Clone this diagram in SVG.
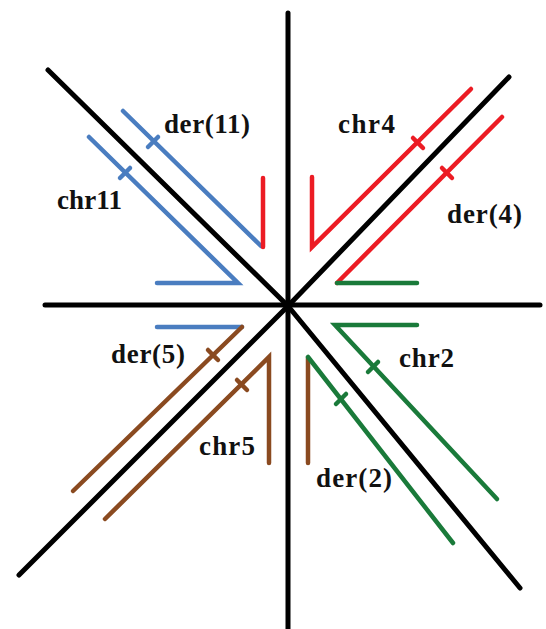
<svg xmlns="http://www.w3.org/2000/svg" width="546" height="629" viewBox="0 0 546 629">
<style>
.ax{stroke:#000;stroke-width:5;fill:none;stroke-linecap:round;stroke-linejoin:round}
.c{stroke-width:4.5;fill:none;stroke-linecap:round;stroke-linejoin:miter}
.b{stroke:#4a7dc0}.r{stroke:#ec1c24}.g{stroke:#1a7a3a}.o{stroke:#8a4a20}
text{font-family:"Liberation Serif","Times New Roman",serif;font-weight:bold;font-size:27px;fill:#111}
</style>
<rect width="546" height="629" fill="#fff"/>
<g id="axes">
<line class="ax" x1="288" y1="13" x2="288" y2="629"/>
<line class="ax" x1="45" y1="305" x2="540" y2="305"/>
<polyline class="ax" points="48,70 288,306 520,588"/>
<polyline class="ax" points="509,77 288,306 19,575"/>
</g>
<g id="chr11">
<polyline class="c b" points="89,137 238,283 157,283"/>
<line class="c b" x1="120" y1="178" x2="130" y2="168"/>
<text x="57" y="209" textLength="65" lengthAdjust="spacing">chr11</text>
</g>
<g id="der11">
<line class="c b" x1="123" y1="111" x2="261" y2="246"/>
<line class="c b" x1="148" y1="147" x2="158" y2="137"/>
<line class="c r" x1="263" y1="178" x2="263" y2="247"/>
<text x="164" y="133" textLength="86" lengthAdjust="spacing">der(11)</text>
</g>
<g id="chr4">
<polyline class="c r" points="471,89 312,247 312,177"/>
<line class="c r" x1="413" y1="138" x2="423" y2="148"/>
<text x="338" y="133" textLength="57" lengthAdjust="spacing">chr4</text>
</g>
<g id="der4">
<line class="c r" x1="502" y1="117" x2="337" y2="283"/>
<line class="c r" x1="442" y1="168" x2="452" y2="178"/>
<line class="c g" x1="337" y1="283" x2="417" y2="283"/>
<text x="447" y="223" textLength="75" lengthAdjust="spacing">der(4)</text>
</g>
<g id="chr2">
<polyline class="c g" points="417,325 335,325 497,499"/>
<line class="c g" x1="368" y1="372" x2="378" y2="362"/>
<text x="399" y="367" textLength="55" lengthAdjust="spacing">chr2</text>
</g>
<g id="der2">
<line class="c o" x1="308" y1="358" x2="308" y2="463"/>
<line class="c g" x1="308" y1="357" x2="453" y2="543"/>
<line class="c g" x1="336" y1="404" x2="346" y2="394"/>
<text x="316" y="487" textLength="76" lengthAdjust="spacing">der(2)</text>
</g>
<g id="der5">
<line class="c b" x1="157" y1="327" x2="242" y2="327"/>
<line class="c o" x1="242" y1="327" x2="73" y2="491"/>
<line class="c o" x1="208" y1="350" x2="218" y2="360"/>
<text x="111" y="363" textLength="74" lengthAdjust="spacing">der(5)</text>
</g>
<g id="chr5">
<polyline class="c o" points="269,463 269,357 105,519"/>
<line class="c o" x1="237" y1="380" x2="247" y2="390"/>
<text x="199" y="455" textLength="56" lengthAdjust="spacing">chr5</text>
</g>
</svg>
